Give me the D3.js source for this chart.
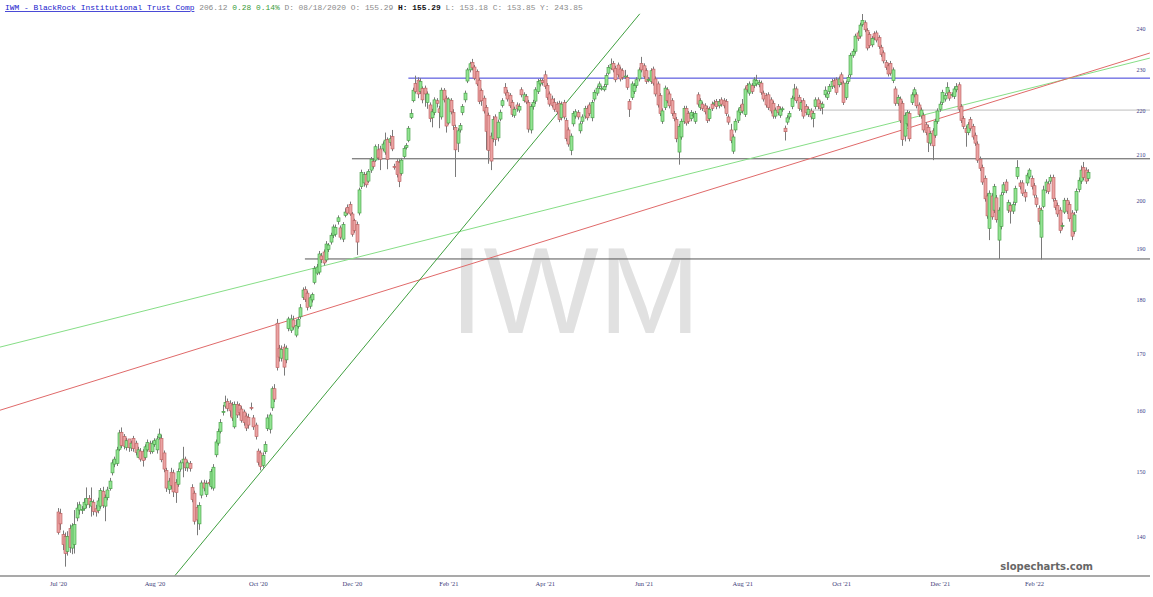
<!DOCTYPE html>
<html><head><meta charset="utf-8">
<script src="https://cdn.jsdelivr.net/npm/d3@7"></script>
<style>html,body{margin:0;padding:0;background:#fff;overflow:hidden}</style>
</head><body>
<svg id="c" width="1153" height="597"></svg>
<script>
// ---- DATA: daily candles [open, high, low, close], by month ----
const jul20 = [[143.7,144.3,140.3,140.6],[143.5,144.2,141.0,141.9],[140.3,140.9,138.0,138.8],[140.0,140.6,135.6,137.5],[137.8,140.8,137.2,140.0],[141.2,141.8,137.6,138.4],[138.3,142.0,137.4,141.6],[138.8,144.0,137.5,141.8],[142.8,145.2,142.3,144.3],[144.0,145.3,143.3,144.8],[144.0,144.6,143.4,144.1],[144.2,145.8,143.9,145.2],[144.8,147.5,144.3,145.8],[145.8,146.3,144.3,144.9],[144.6,147.5,143.0,145.3],[145.2,145.6,143.2,143.8],[144.2,144.8,143.0,143.7],[143.9,145.9,143.5,145.4],[144.6,147.4,144.2,147.0],[146.9,147.6,144.3,144.7],[144.6,146.4,142.3,145.9],[145.9,147.6,145.5,147.1]];
const aug20 = [[147.3,149.0,147.0,148.5],[149.8,151.9,149.4,151.4],[151.2,152.4,150.7,152.0],[151.3,154.0,150.9,153.5],[153.6,156.8,153.3,156.3],[156.4,157.2,153.8,154.2],[155.7,156.1,153.6,154.1],[153.9,155.5,153.4,155.0],[155.29,155.29,153.18,153.85],[153.8,155.0,153.3,154.6],[155.4,155.8,153.2,153.7],[154.6,155.0,152.6,153.1],[152.3,154.0,152.2,153.5],[153.3,153.8,151.6,152.0],[153.2,153.6,150.8,151.8],[152.3,154.4,151.9,154.0],[153.5,155.2,153.2,154.7],[154.5,155.0,152.8,153.2],[153.2,155.0,152.9,154.6],[154.4,155.4,154.0,155.0],[153.5,155.8,152.9,155.3]];
const sep20 = [[155.5,157.0,155.2,156.1],[155.4,156.0,151.5,151.9],[153.0,153.4,149.9,150.4],[150.2,150.6,146.8,147.4],[147.2,149.0,146.5,148.5],[149.9,150.6,147.2,147.8],[149.8,150.3,146.0,146.8],[148.3,148.8,145.1,146.7],[148.0,150.5,147.6,150.0],[150.4,151.8,150.0,151.4],[151.4,154.0,149.1,152.0],[152.0,152.4,150.1,150.6],[150.6,151.8,150.0,151.4],[151.3,151.7,150.0,150.5],[147.5,148.0,145.2,145.6],[146.6,147.0,141.8,142.3],[144.4,144.8,140.2,142.5],[141.9,145.2,141.0,144.7],[146.3,148.6,145.8,148.2],[148.2,148.7,146.9,147.4],[146.4,148.6,146.0,148.1]];
const oct20 = [[148.3,148.8,147.8,148.2],[147.6,150.4,147.2,150.0],[147.4,151.2,147.0,150.7],[152.7,155.2,152.3,154.8],[154.6,157.0,154.2,156.5],[156.5,158.6,156.2,158.0],[159.7,161.0,159.2,159.9],[160.8,162.6,160.4,161.4],[161.6,162.1,159.9,160.4],[161.3,161.8,159.0,160.0],[161.0,161.5,158.3,158.8],[157.3,161.6,157.0,161.1],[161.1,161.6,158.8,159.3],[160.9,161.3,159.2,159.7],[160.3,160.8,158.0,158.4],[159.8,160.2,157.5,158.0],[159.1,159.6,156.6,157.1],[158.9,159.5,157.0,157.6],[160.6,161.4,160.1,160.5],[158.8,159.3,156.8,157.3],[157.6,158.0,155.2,155.7],[153.3,153.7,151.0,151.5]];
const nov20 = [[153.0,153.4,150.2,150.8],[151.0,153.1,150.6,152.6],[153.2,154.9,152.8,154.4],[157.0,159.4,156.6,158.8],[156.9,159.7,156.2,159.3],[160.5,164.2,160.0,163.8],[163.8,164.6,161.5,162.0],[175.6,176.4,167.0,167.5],[171.0,171.6,168.6,169.4],[169.2,171.5,168.6,170.8],[171.2,171.8,166.1,167.6],[168.9,171.5,168.3,171.0],[174.6,176.8,174.1,176.4],[174.3,177.2,173.8,176.4],[176.2,177.0,174.4,174.9],[173.4,176.3,173.0,175.2],[175.0,176.8,174.6,176.3],[176.8,179.2,176.4,178.5],[180.5,182.4,180.0,181.9],[182.0,182.6,179.6,180.1]];
const dec20 = [[181.3,181.8,178.0,178.6],[178.8,180.9,178.3,180.4],[180.0,181.4,179.5,181.0],[183.4,186.6,183.0,186.1],[185.2,187.0,184.8,186.4],[185.4,189.6,184.9,189.0],[188.6,189.2,187.2,187.9],[189.4,189.9,186.7,187.2],[187.8,191.6,187.4,191.0],[189.9,191.2,189.4,190.8],[191.4,193.3,190.9,192.8],[192.8,195.0,192.2,194.5],[193.0,195.0,192.5,194.4],[195.6,196.9,195.0,196.4],[194.3,194.8,191.9,192.4],[192.0,195.5,191.4,195.0],[196.9,198.4,196.5,197.6],[198.6,199.2,197.0,197.4],[199.2,199.8,196.8,197.2],[197.2,197.6,192.5,193.0],[195.8,196.2,193.3,193.8],[195.0,195.6,188.8,191.4]];
const jan21 = [[197.4,202.8,196.9,202.3],[203.0,206.7,202.5,206.1],[203.8,206.2,203.0,205.6],[205.6,206.1,202.8,203.4],[204.2,206.8,203.8,206.3],[206.6,209.5,206.0,209.0],[208.5,209.2,206.9,207.4],[208.8,212.3,208.4,211.8],[211.1,212.4,208.8,209.3],[211.3,212.0,206.6,209.0],[211.3,213.0,210.8,212.4],[210.6,215.0,210.0,213.3],[213.4,213.9,206.8,209.0],[212.8,214.4,212.0,213.6],[214.1,215.6,210.8,211.3],[207.4,208.0,206.7,207.2],[208.5,209.0,205.0,205.6],[208.3,209.0,202.9,204.1],[205.9,209.3,205.4,208.8]];
const feb21 = [[209.6,211.9,209.2,211.4],[211.6,212.6,211.2,212.1],[213.2,216.5,212.8,216.0],[218.5,220.4,218.1,219.4],[222.4,225.5,222.0,224.9],[226.5,228.4,224.1,224.6],[227.3,228.0,223.0,224.0],[224.6,227.8,224.0,227.0],[225.3,225.8,221.8,222.6],[225.4,226.0,221.0,224.0],[222.0,224.6,220.5,224.0],[221.4,222.0,217.4,218.2],[218.4,220.5,216.2,219.8],[219.6,223.2,219.0,222.6],[222.4,223.0,220.8,221.8],[220.5,221.2,216.0,219.6],[218.6,225.5,218.0,224.9],[224.9,225.4,222.0,222.6],[223.0,223.6,215.0,216.5]];
const mar21 = [[217.2,223.2,216.8,222.8],[222.5,223.0,219.2,219.8],[219.6,220.4,215.6,216.6],[216.2,216.8,205.1,211.1],[212.6,216.0,210.6,215.4],[215.6,217.2,215.0,216.6],[219.6,221.6,219.0,221.0],[222.6,224.8,222.0,224.2],[227.1,230.3,226.6,229.8],[229.8,231.8,229.2,231.3],[231.6,232.5,229.7,230.3],[230.5,231.0,227.3,227.8],[229.4,229.9,225.9,226.4],[227.3,227.8,221.6,222.2],[224.8,225.3,221.2,222.4],[223.0,223.6,219.4,220.0],[220.8,221.4,211.1,215.3],[219.0,219.6,208.0,211.0],[214.2,215.0,206.6,208.6],[213.6,218.8,212.8,218.0],[218.6,219.2,212.0,213.4],[213.8,218.0,213.0,217.4],[218.1,220.3,217.6,219.7]];
const apr21 = [[221.3,223.0,220.8,222.4],[225.6,226.6,223.6,224.2],[224.3,225.0,222.2,222.8],[223.7,224.2,220.7,221.2],[222.0,222.6,218.6,219.2],[219.0,221.0,218.4,220.4],[221.4,222.0,219.8,220.5],[220.2,221.8,219.6,221.0],[225.0,225.6,223.2,223.8],[222.4,224.4,222.0,223.8],[223.4,224.0,221.6,222.1],[222.0,222.6,215.0,215.8],[215.6,221.6,214.8,221.0],[221.0,222.6,220.3,222.0],[222.3,225.6,221.6,225.0],[224.6,227.6,224.0,227.0],[226.4,227.8,225.8,227.2],[227.2,227.7,226.0,226.7],[228.6,229.6,225.2,225.8],[226.0,226.6,222.6,223.2],[224.0,224.6,221.0,221.6]];
const may21 = [[222.8,223.6,220.8,221.3],[222.0,223.0,219.8,220.4],[221.6,222.2,219.2,219.8],[221.8,222.4,217.4,218.0],[218.4,222.2,217.8,221.6],[222.0,222.6,218.0,218.6],[217.8,218.4,213.0,213.6],[215.6,216.2,211.8,212.4],[211.0,214.8,209.9,214.2],[217.0,220.0,216.4,219.4],[218.8,220.4,218.2,219.8],[219.6,220.2,218.0,218.6],[215.4,217.6,214.8,217.0],[217.6,219.2,217.0,218.6],[218.8,221.2,218.2,220.6],[220.6,221.2,217.8,218.4],[221.4,222.0,218.8,219.4],[218.4,222.6,217.6,222.0],[222.8,225.0,222.2,224.4],[224.2,226.0,223.6,225.4]];
const jun21 = [[225.8,227.0,225.2,226.4],[225.3,226.0,224.8,225.4],[225.0,226.4,224.6,225.8],[226.2,229.0,225.6,228.4],[229.0,231.0,228.6,230.4],[230.2,232.6,229.8,231.2],[231.4,232.0,229.2,229.8],[230.2,230.8,226.8,227.4],[231.0,231.6,228.0,228.6],[230.0,230.6,227.0,227.6],[229.6,230.2,227.4,228.0],[228.2,229.8,227.6,228.3],[228.0,228.6,225.0,225.6],[222.2,222.8,218.6,220.4],[223.2,227.0,222.6,226.4],[224.6,226.6,224.0,226.0],[226.0,228.0,225.4,227.4],[227.6,230.4,227.0,229.8],[231.4,233.0,229.2,229.8],[230.8,231.4,227.6,228.2],[229.6,230.2,226.4,227.0],[227.4,228.0,226.8,227.5]];
const jul21 = [[227.0,230.2,226.4,229.6],[230.0,230.6,226.0,226.6],[227.6,228.2,223.4,224.0],[226.4,227.0,220.8,221.4],[223.6,224.2,218.8,219.4],[217.6,220.6,217.0,220.0],[220.8,226.0,220.2,225.4],[225.0,225.6,221.8,222.4],[224.0,224.6,220.6,221.2],[222.4,223.0,218.8,219.4],[219.4,220.0,217.6,218.2],[218.0,218.6,212.8,213.6],[210.6,217.0,207.8,216.4],[214.0,218.2,213.4,217.6],[217.6,221.2,217.0,220.6],[220.6,221.2,216.6,217.2],[219.4,220.0,217.0,217.6],[218.2,220.2,217.6,219.6],[219.0,219.8,218.4,219.1],[217.6,220.0,217.0,219.4],[223.8,224.4,221.0,221.6]];
const aug21 = [[220.8,223.0,220.2,222.4],[221.6,222.2,220.0,220.6],[221.2,221.8,219.2,219.8],[220.6,221.2,217.2,217.8],[218.2,221.0,217.6,220.4],[221.6,222.2,220.0,220.6],[221.8,222.6,221.2,221.9],[222.2,222.8,220.4,221.0],[221.2,222.8,220.6,222.2],[222.6,223.2,221.0,221.6],[222.4,223.0,220.6,221.2],[222.2,222.8,218.8,219.4],[218.6,219.2,216.8,217.4],[215.6,217.0,212.6,213.2],[210.8,214.6,210.2,214.0],[215.6,218.2,215.0,217.6],[217.8,220.6,217.2,220.0],[219.6,221.4,219.0,220.8],[221.6,222.8,219.4,220.0],[219.2,225.8,218.6,225.2],[226.0,226.6,224.4,225.0]];
const sep21 = [[224.2,227.0,223.6,226.4],[226.0,226.6,224.0,224.6],[226.0,228.0,225.4,227.4],[226.4,228.6,225.8,227.2],[226.2,227.4,225.6,226.8],[226.6,227.2,223.8,224.4],[224.2,224.8,222.2,222.8],[223.6,224.2,220.8,221.4],[223.8,224.4,220.2,220.8],[222.6,223.2,219.4,220.0],[221.8,222.4,218.2,218.8],[218.8,220.8,218.2,220.2],[221.0,221.6,219.0,219.6],[219.0,221.0,218.4,220.4],[220.4,221.0,219.8,220.5],[216.0,216.6,213.2,215.2],[217.4,219.0,216.8,218.4],[218.6,220.0,218.0,219.4],[221.0,223.6,220.4,223.0],[223.2,226.4,222.6,225.2],[225.2,225.8,221.8,222.4],[223.2,223.8,220.0,220.6]];
const oct21 = [[220.4,222.6,219.8,222.0],[222.4,223.0,218.2,218.8],[221.0,221.6,219.0,219.6],[219.2,221.0,218.6,220.4],[220.0,220.6,218.0,218.6],[218.2,220.0,216.2,219.4],[221.0,223.2,220.4,222.6],[222.6,223.2,220.4,221.0],[221.8,222.4,220.0,220.6],[220.8,222.2,219.2,221.6],[223.8,225.8,223.2,224.9],[223.2,224.6,222.6,224.0],[224.6,226.4,224.0,225.8],[225.8,227.6,225.2,227.0],[227.2,227.8,225.4,226.0],[227.4,228.0,223.8,224.4],[226.2,228.2,225.6,227.6],[228.6,229.2,226.2,226.8],[226.6,227.2,221.4,222.0],[223.2,227.2,222.6,226.6],[227.0,228.6,226.4,228.0]];
const nov21 = [[228.6,234.0,228.0,233.4],[233.4,235.0,232.8,234.4],[234.4,238.8,233.8,238.2],[239.0,239.6,237.0,237.6],[238.2,241.6,237.6,241.0],[241.2,243.85,240.6,242.2],[241.6,242.2,239.2,239.8],[239.6,240.2,234.6,235.2],[238.6,239.2,235.2,235.8],[236.0,238.2,235.4,237.6],[238.8,239.4,237.2,237.8],[239.0,239.6,236.6,237.2],[237.8,238.4,235.0,235.6],[235.4,236.0,233.0,233.6],[234.0,234.6,231.4,232.0],[231.6,232.2,229.8,230.4],[230.8,231.4,228.2,228.8],[231.4,232.0,228.4,229.0],[227.2,230.4,226.6,229.8],[225.2,225.8,221.2,221.8],[221.8,223.8,221.2,223.2]];
const dec21 = [[222.8,223.4,217.2,217.8],[221.8,222.4,212.0,213.4],[214.2,219.6,213.0,219.0],[217.0,220.2,216.4,219.6],[219.4,220.0,213.0,213.6],[222.0,224.4,221.4,223.8],[223.8,225.6,223.2,225.0],[223.8,224.4,220.6,221.2],[221.4,222.0,218.6,219.2],[218.8,220.8,218.2,220.2],[219.0,219.6,215.0,215.6],[216.8,217.4,214.4,215.0],[216.2,216.8,210.6,212.8],[212.6,215.4,212.0,214.8],[215.4,216.0,208.8,212.0],[214.4,218.2,213.8,217.6],[217.6,220.6,217.0,220.0],[220.4,222.2,219.8,221.6],[222.0,225.0,221.4,224.4],[222.8,224.2,222.2,223.6],[224.2,226.8,223.6,225.6],[224.4,225.0,222.4,223.0]];
const jan22 = [[223.8,224.4,223.2,223.9],[223.4,225.8,222.8,225.2],[225.0,226.6,224.4,225.8],[226.2,226.8,219.8,220.4],[221.0,221.6,217.2,217.8],[218.2,218.8,215.8,216.4],[216.0,216.6,211.8,215.0],[215.0,217.4,214.4,216.8],[218.0,218.6,215.4,216.0],[216.4,217.0,213.4,214.0],[214.4,215.0,212.0,212.6],[212.4,213.0,208.2,208.8],[209.0,209.6,206.4,207.0],[207.2,207.8,203.4,204.0],[204.8,205.4,199.8,200.4],[201.0,201.6,196.2,196.8],[194.2,202.2,191.8,201.6],[201.0,201.6,196.0,196.6],[198.0,203.6,197.4,203.0],[200.6,201.2,195.4,196.0]];
const feb22 = [[191.8,198.6,188.0,198.0],[194.6,201.8,194.0,201.2],[201.7,204.0,201.2,203.4],[204.0,204.6,201.6,202.2],[198.0,200.2,197.4,199.6],[199.0,199.6,195.2,197.8],[197.8,199.8,197.2,199.2],[199.6,203.2,199.0,202.6],[205.2,208.8,204.6,207.2],[203.8,204.4,202.4,203.0],[203.8,204.4,201.0,201.6],[201.8,202.4,199.8,200.8],[203.8,206.0,203.2,205.5],[205.1,207.0,204.6,206.6],[204.8,205.4,202.4,203.0],[203.2,203.8,200.6,201.2],[200.6,201.2,198.6,199.2],[198.4,199.0,195.0,195.6],[192.4,198.6,187.9,198.0]];
const mar22 = [[198.8,203.2,198.4,202.3],[202.2,204.6,201.6,204.0],[203.6,204.2,201.4,202.0],[204.2,205.6,203.6,205.0],[205.0,205.6,199.8,200.4],[200.0,200.6,198.0,198.6],[199.0,199.6,196.6,197.2],[198.0,198.6,193.2,193.8],[194.6,195.4,194.0,194.8],[197.6,200.6,197.2,200.1],[200.0,200.6,197.2,197.8],[199.2,199.8,195.6,196.2],[197.4,198.0,191.8,192.6],[193.6,197.6,193.0,197.0],[198.0,202.6,197.4,202.0],[202.4,205.0,201.8,204.4],[204.2,207.6,203.6,206.6],[207.2,208.4,204.4,205.0],[206.6,207.2,203.6,204.2],[204.8,206.8,204.2,206.12]];

const months = [jul20, aug20, sep20, oct20, nov20, dec20, jan21, feb21, mar21, apr21, may21, jun21, jul21, aug21, sep21, oct21, nov21, dec21, jan22, feb22, mar22];

// axis ticks
const yTicks = [140, 150, 160, 170, 180, 190, 200, 210, 220, 230, 240];
const xTickIndex = [0, 41, 85, 125, 166, 207, 249, 291, 333, 375, 415];
const xTickLabels = ["Jul '20", "Aug '20", "Oct '20", "Dec '20", "Feb '21", "Apr '21", "Jun '21", "Aug '21", "Oct '21", "Dec '21", "Feb '22"];

// drawn annotation lines (in bar-index / price units)
const blueLevel = {price: 227.8, fromIndex: 149};
const grayLevels = [{price: 209.1, fromIndex: 125}, {price: 188.0, fromIndex: 105}];
const lightLevel = {price: 220.2, fromIndex: 321};
const redTrend = [[-24.7, 160.1], [464.3, 233.96]];
const lightGreenTrend = [[-24.7, 171.2], [464.3, 232.7]];
const steepTrend = [[49.7, 134.3], [247.4, 243.9]];

// header strings
const headerTitle = "IWM - BlackRock Institutional Trust Comp";
const headerLast = "206.12";
const headerChange = "0.28 0.14%";
const headerDate = "D: 08/18/2020 O: 155.29";
const headerHigh = "H: 155.29";
const headerRest = "L: 153.18 C: 153.85 Y: 243.85";

// ---- DRAW ----
const candles = months.flat().map((d, i) => ({i, o: d[0], h: d[1], l: d[2], c: d[3]}));
const N = candles.length;

const svg = d3.select("#c");
const W = 1153, H = 597;
const plotRight = 1150, axisY = 576;

const x = d3.scaleLinear().domain([0, N - 1]).range([58, 1088]);
const y = d3.scaleLog().domain([240, 140]).range([29, 29 + 941.7 * Math.log(240 / 140)]);

svg.append("defs").append("clipPath").attr("id", "plotclip")
  .append("rect").attr("x", 0).attr("y", 0).attr("width", plotRight).attr("height", axisY);

// watermark
svg.append("text").attr("x", 575).attr("y", 333).attr("text-anchor", "middle")
  .attr("font-family", "Liberation Sans, Arial, sans-serif").attr("font-size", 122)
  .attr("fill", "#e1e1e1").text("IWM");

const plot = svg.append("g").attr("clip-path", "url(#plotclip)");

// horizontal levels
const hl = (lv, color, w) => plot.append("line")
  .attr("x1", x(lv.fromIndex)).attr("x2", plotRight)
  .attr("y1", y(lv.price)).attr("y2", y(lv.price))
  .attr("stroke", color).attr("stroke-width", w);
hl(lightLevel, "#bdbdbd", 1);
grayLevels.forEach(lv => hl(lv, "#555", 1));
hl(blueLevel, "#3a3ad8", 1);

// trend lines
const line = d3.line().x(d => x(d[0])).y(d => y(d[1]));
plot.append("path").attr("d", line(lightGreenTrend)).attr("stroke", "#86de86").attr("fill", "none").attr("stroke-width", 1);
plot.append("path").attr("d", line(redTrend)).attr("stroke", "#e06a6a").attr("fill", "none").attr("stroke-width", 1);
plot.append("path").attr("d", line(steepTrend)).attr("stroke", "#3f9f3f").attr("fill", "none").attr("stroke-width", 1);

// candles
const bw = 3;
const cg = plot.append("g");
cg.selectAll("line.wick").data(candles).join("line").attr("class", "wick")
  .attr("x1", d => Math.round(x(d.i)) + 0.5).attr("x2", d => Math.round(x(d.i)) + 0.5)
  .attr("y1", d => y(Math.max(d.h, d.o, d.c))).attr("y2", d => y(Math.min(d.l, d.o, d.c)))
  .attr("stroke", "#7a7a7a").attr("stroke-width", 1);
cg.selectAll("rect.body").data(candles).join("rect").attr("class", "body")
  .attr("x", d => Math.round(x(d.i)) - 1)
  .attr("width", bw)
  .attr("y", d => y(Math.max(d.o, d.c)))
  .attr("height", d => Math.max(1, Math.abs(y(d.o) - y(d.c))))
  .attr("fill", d => d.c >= d.o ? "#93e493" : "#eba3a3")
  .attr("stroke", d => d.c >= d.o ? "#3f9a3f" : "#b85c5c")
  .attr("stroke-width", 0.6);

// axes
svg.append("line").attr("x1", 0).attr("x2", plotRight).attr("y1", axisY).attr("y2", axisY)
  .attr("stroke", "#8c8c8c").attr("stroke-width", 1.5);

const xAxis = d3.axisBottom(x).tickValues(xTickIndex).tickFormat((d, k) => xTickLabels[k]).tickSize(0).tickPadding(5);
const gx = svg.append("g").attr("transform", `translate(0,${axisY})`).call(xAxis);
gx.select(".domain").remove();
gx.selectAll("text").attr("font-family", "Liberation Serif, serif").attr("font-size", 6.5).attr("fill", "#3c3c78");

const yAxis = d3.axisRight(y).tickValues(yTicks).tickFormat(d3.format("d")).tickSize(0).tickPadding(0);
const gy = svg.append("g").attr("transform", "translate(1141,0)").call(yAxis);
gy.select(".domain").remove();
gy.selectAll("text").attr("text-anchor", "middle").attr("font-family", "Liberation Serif, serif").attr("font-size", 6).attr("fill", "#3c3c88");

// header
const hdr = svg.append("text").attr("x", 5).attr("y", 10)
  .attr("font-family", "Liberation Mono, Courier New, monospace").attr("font-size", 7.9).attr("xml:space", "preserve");
hdr.append("tspan").attr("fill", "#1a1acc").attr("text-decoration", "underline").text(headerTitle);
hdr.append("tspan").attr("fill", "#8a8a8a").text(" " + headerLast + " ");
hdr.append("tspan").attr("fill", "#3a9a3a").text(headerChange + " ");
hdr.append("tspan").attr("fill", "#8a8a8a").text(headerDate + " ");
hdr.append("tspan").attr("fill", "#111").attr("font-weight", "bold").text(headerHigh + " ");
hdr.append("tspan").attr("fill", "#8a8a8a").text(headerRest);

// brand
svg.append("text").attr("x", 1093).attr("y", 570).attr("text-anchor", "end")
  .attr("font-family", "DejaVu Sans, sans-serif").attr("font-weight", "bold").attr("font-size", 10)
  .attr("fill", "#666").text("slopecharts.com");
</script>
</body></html>
